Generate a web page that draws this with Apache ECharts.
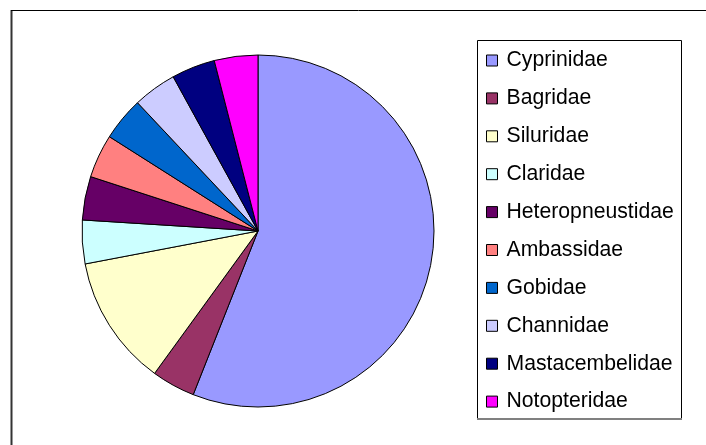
<!DOCTYPE html>
<html>
<head>
<meta charset="utf-8">
<script src="https://cdn.jsdelivr.net/npm/echarts@6/dist/echarts.min.js"></script>
<style>html,body{margin:0;padding:0;background:#fff}#c{width:706px;height:445px}</style>
</head>
<body>
<div id="c"></div>
<script>
const families = ['Cyprinidae','Bagridae','Siluridae','Claridae','Heteropneustidae','Ambassidae','Gobidae','Channidae','Mastacembelidae','Notopteridae'];
const counts = [14, 1, 3, 1, 1, 1, 1, 1, 1, 1];
const colors = ['#9999FF','#993366','#FFFFCC','#CCFFFF','#660066','#FF8080','#0066CC','#CCCCFF','#000080','#FF00FF'];

const chart = echarts.init(document.getElementById('c'), null, {renderer: 'canvas'});
chart.setOption({
  animation: false,
  backgroundColor: '#fff',
  color: colors,
  graphic: [
    {type: 'line', shape: {x1: 11.5, y1: 10, x2: 11.5, y2: 445}, style: {stroke: '#333', lineWidth: 2}, z: 10},
    {type: 'line', shape: {x1: 11, y1: 10.5, x2: 706, y2: 10.5}, style: {stroke: '#000', lineWidth: 1}, z: 10},
    {type: 'rect', shape: {x: 477.5, y: 40.5, width: 204, height: 378}, style: {fill: 'none', stroke: '#000', lineWidth: 1}, z: 10},
    {type: 'line', shape: {x1: 477, y1: 419, x2: 682, y2: 419}, style: {stroke: '#808080', lineWidth: 2}, z: 10}
  ],
  legend: {
    orient: 'vertical',
    left: 486,
    top: 49.5,
    padding: 0,
    itemWidth: 11,
    itemHeight: 11,
    itemGap: 15.9,
    icon: 'rect',
    data: families,
    itemStyle: {borderColor: '#000', borderWidth: 1},
    textStyle: {fontFamily: 'Liberation Sans, Arial, sans-serif', fontSize: 21.2, lineHeight: 22, color: '#000', padding: [0, 0, 0, 4]}
  },
  series: [{
    type: 'pie',
    center: [258, 231],
    radius: [0, 176],
    startAngle: 90,
    clockwise: true,
    label: {show: false},
    labelLine: {show: false},
    emphasis: {disabled: true},
    itemStyle: {borderColor: '#000', borderWidth: 1},
    data: families.map((n, i) => ({name: n, value: counts[i]}))
  }]
});
</script>
</body>
</html>
